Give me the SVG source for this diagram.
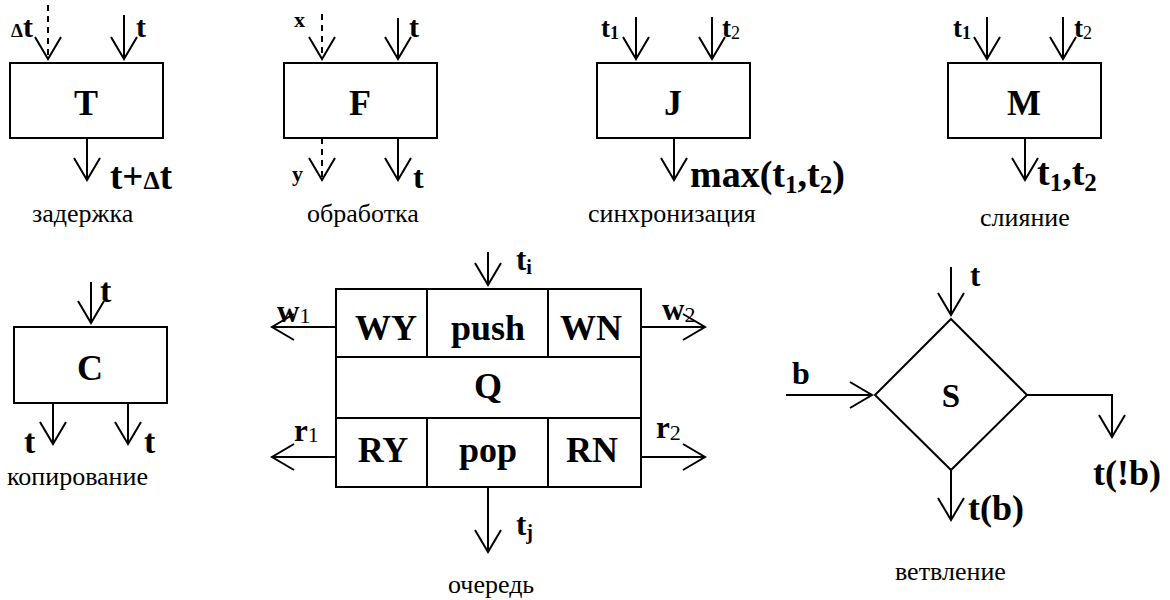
<svg xmlns="http://www.w3.org/2000/svg" width="1170" height="600" viewBox="0 0 1170 600">
<style>
.bx{fill:#fff;stroke:#000;stroke-width:2}
.ln{fill:none;stroke:#000;stroke-width:2}
.ar{fill:none;stroke:#000;stroke-width:2;marker-end:url(#ah)}
.ds{stroke-dasharray:6,5}
.b{font-family:"Liberation Serif","Times New Roman",serif;font-weight:bold;fill:#000}
.cap{font-family:"Liberation Serif","Times New Roman",serif;font-size:26px;fill:#000}
.big{font-size:36px;text-anchor:middle}
</style>
<defs>
<marker id="ah" markerUnits="userSpaceOnUse" markerWidth="1" markerHeight="1" refX="0" refY="0" orient="auto" overflow="visible">
<path d="M-22,-13 L0,0 L-22,13" fill="none" stroke="#000" stroke-width="2" stroke-dasharray="none"/>
</marker>
</defs>

<g id="connectors">
<line class="ar ds" x1="48" y1="5" x2="48" y2="59"/>
<line class="ar" x1="124" y1="15" x2="124" y2="59"/>
<line class="ar" x1="87" y1="138" x2="87" y2="180"/>
<line class="ar ds" x1="322" y1="14" x2="322" y2="59"/>
<line class="ar" x1="398" y1="18" x2="398" y2="59"/>
<line class="ar ds" x1="322" y1="138" x2="322" y2="180"/>
<line class="ar" x1="398" y1="138" x2="398" y2="180"/>
<line class="ar" x1="636" y1="17" x2="636" y2="59"/>
<line class="ar" x1="712" y1="17" x2="712" y2="59"/>
<line class="ar" x1="674" y1="138" x2="674" y2="180"/>
<line class="ar" x1="987" y1="17" x2="987" y2="59"/>
<line class="ar" x1="1063" y1="17" x2="1063" y2="59"/>
<line class="ar" x1="1025" y1="138" x2="1025" y2="180"/>
<line class="ar" x1="91" y1="282" x2="91" y2="323"/>
<line class="ar" x1="53" y1="403" x2="53" y2="444"/>
<line class="ar" x1="128" y1="403" x2="128" y2="444"/>
<line class="ar" x1="488" y1="252" x2="488" y2="285"/>
<line class="ar" x1="488" y1="487" x2="488" y2="552"/>
<line class="ar" x1="336" y1="327" x2="272" y2="327"/>
<line class="ar" x1="336" y1="457" x2="272" y2="457"/>
<line class="ar" x1="641" y1="327" x2="705" y2="327"/>
<line class="ar" x1="641" y1="457" x2="705" y2="457"/>
<line class="ar" x1="951" y1="267" x2="951" y2="315"/>
<line class="ar" x1="786" y1="395" x2="872" y2="395"/>
<polyline class="ar" points="1027,395 1112,395 1112,437"/>
<line class="ar" x1="951" y1="470" x2="951" y2="520"/>
</g>

<g id="node-T">
<rect class="bx" x="10" y="63" width="153" height="75"/>
<text class="b big" x="86" y="115">T</text>
<text class="b" x="11" y="37"><tspan font-size="19">Δ</tspan><tspan font-size="30">t</tspan></text>
<text class="b" x="136" y="37" font-size="30">t</text>
<text class="b" x="110" y="189" font-size="37">t+<tspan font-size="26">Δ</tspan>t</text>
<text class="cap" x="32" y="222">задержка</text>
</g>

<g id="node-F">
<rect class="bx" x="284" y="63" width="153" height="75"/>
<text class="b big" x="360" y="115">F</text>
<text class="b" x="294" y="27" font-size="22">x</text>
<text class="b" x="409" y="37" font-size="30">t</text>
<text class="b" x="292" y="181" font-size="22">y</text>
<text class="b" x="413" y="188" font-size="32">t</text>
<text class="cap" x="307" y="222">обработка</text>
</g>

<g id="node-J">
<rect class="bx" x="597" y="63" width="153" height="75"/>
<text class="b big" x="673" y="115">J</text>
<text class="b" x="601" y="37" font-size="27">t<tspan font-size="18" dy="2">1</tspan></text>
<text class="b" x="722" y="37" font-size="27">t<tspan font-size="18" dy="2" font-weight="normal">2</tspan></text>
<text class="b" x="690" y="187" font-size="38">max(t<tspan font-size="25" dy="6">1</tspan><tspan dy="-6">,t</tspan><tspan font-size="25" dy="6">2</tspan><tspan dy="-6">)</tspan></text>
<text class="cap" x="588" y="222">синхронизация</text>
</g>

<g id="node-M">
<rect class="bx" x="948" y="63" width="153" height="75"/>
<text class="b big" x="1024" y="115">M</text>
<text class="b" x="953" y="37" font-size="27">t<tspan font-size="18" dy="2">1</tspan></text>
<text class="b" x="1074" y="37" font-size="27">t<tspan font-size="18" dy="2" font-weight="normal">2</tspan></text>
<text class="b" x="1037" y="185" font-size="38">t<tspan font-size="25" dy="6">1</tspan><tspan dy="-6">,t</tspan><tspan font-size="25" dy="6">2</tspan></text>
<text class="cap" x="980" y="226">слияние</text>
</g>

<g id="node-C">
<rect class="bx" x="14" y="327" width="153" height="76"/>
<text class="b big" x="90" y="380">C</text>
<text class="b" x="100" y="302" font-size="34">t</text>
<text class="b" x="24" y="453" font-size="34">t</text>
<text class="b" x="144" y="453" font-size="34">t</text>
<text class="cap" x="7" y="485">копирование</text>
</g>

<g id="node-Q">
<rect class="bx" x="336" y="289" width="305" height="198"/>
<line class="ln" x1="336" y1="357" x2="641" y2="357"/>
<line class="ln" x1="336" y1="418" x2="641" y2="418"/>
<line class="ln" x1="427" y1="289" x2="427" y2="357"/>
<line class="ln" x1="548" y1="289" x2="548" y2="357"/>
<line class="ln" x1="427" y1="418" x2="427" y2="487"/>
<line class="ln" x1="548" y1="418" x2="548" y2="487"/>
<text class="b big" x="386" y="340">WY</text>
<text class="b big" x="488" y="340">push</text>
<text class="b big" x="591" y="340">WN</text>
<text class="b big" x="488" y="398">Q</text>
<text class="b big" x="383" y="462">RY</text>
<text class="b big" x="488" y="462">pop</text>
<text class="b big" x="592" y="462">RN</text>
<text class="b" x="516" y="270" font-size="31">t<tspan font-size="20" dy="4">i</tspan></text>
<text class="b" x="516" y="535" font-size="31">t<tspan font-size="20" dy="4">j</tspan></text>
<text class="b" x="277" y="322" font-size="31">w<tspan font-size="22" font-weight="normal" dy="1">1</tspan></text>
<text class="b" x="662" y="320" font-size="31">w<tspan font-size="22" font-weight="normal" dy="2">2</tspan></text>
<text class="b" x="294" y="441" font-size="31">r<tspan font-size="22" font-weight="normal" dy="1">1</tspan></text>
<text class="b" x="656" y="438" font-size="31">r<tspan font-size="22" font-weight="normal" dy="2">2</tspan></text>
<text class="cap" x="448" y="593">очередь</text>
</g>

<g id="node-S">
<polygon class="bx" points="951,319 1027,395 951,470 875,395"/>
<text class="b" x="951" y="407" font-size="33" text-anchor="middle">S</text>
<text class="b" x="970" y="286" font-size="31">t</text>
<text class="b" x="792" y="384" font-size="32">b</text>
<text class="b" x="1093" y="485" font-size="36">t(!b)</text>
<text class="b" x="968" y="520" font-size="36">t(b)</text>
<text class="cap" x="895" y="580">ветвление</text>
</g>
</svg>
